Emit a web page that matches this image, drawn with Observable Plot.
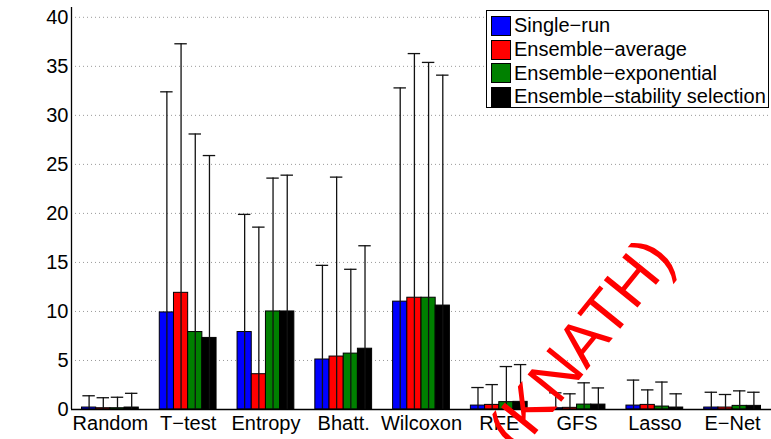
<!DOCTYPE html>
<html><head><meta charset="utf-8">
<script src="https://cdn.jsdelivr.net/npm/d3@7"></script>
<script src="https://cdn.jsdelivr.net/npm/@observablehq/plot@0.6"></script>
<style>
body{margin:0;background:#fff;}
#wrap{position:relative;width:771px;height:439px;overflow:hidden;font-family:"Liberation Sans",Arial,sans-serif;}
#legend{position:absolute;left:486px;top:10px;width:283px;height:98px;box-sizing:border-box;border:1px solid #000;background:#fff;padding:3px 0 0 4px;}
.row{display:flex;align-items:center;height:23.7px;font-size:20px;color:#000;white-space:nowrap;}
.sw{width:20px;height:20px;box-sizing:border-box;border:1px solid #000;margin-right:3px;flex:none;}
#wm{position:absolute;left:659px;top:246px;width:0;height:0;transform:rotate(-51deg);}
#wm span{position:absolute;right:0;top:-0.5em;line-height:1;font-size:63px;color:#f00;white-space:nowrap;}
</style></head>
<body><div id="wrap"></div>
<script>
const categories = ["Random","T\u2212test","Entropy","Bhatt.","Wilcoxon","RFE","GFS","Lasso","E\u2212Net"];
const series = ["Single\u2212run","Ensemble\u2212average","Ensemble\u2212exponential","Ensemble\u2212stability selection"];
const colors = ["#0000ff","#ff0000","#008000","#000000"];
const yTicks = [0,5,10,15,20,25,30,35,40];

// mean values per series (one per category)
const singleRun    = [0.2, 9.9, 7.9, 5.1, 11.0, 0.4, 0.13, 0.4, 0.2];
const ensAverage   = [0.13, 11.9, 3.6, 5.4, 11.4, 0.47, 0.17, 0.47, 0.2];
const ensExp       = [0.13, 7.9, 10.0, 5.7, 11.4, 0.75, 0.5, 0.3, 0.37];
const ensStability = [0.2, 7.3, 10.0, 6.2, 10.6, 0.78, 0.5, 0.2, 0.37];

// standard deviations (error bar half-lengths)
const singleRunErr    = [1.2, 22.5, 12.0, 9.6, 21.8, 1.84, 1.57, 2.6, 1.56];
const ensAverageErr   = [1.07, 25.4, 15.0, 18.3, 24.9, 2.07, 1.43, 1.53, 1.33];
const ensExpErr       = [1.12, 20.2, 13.6, 8.6, 24.0, 3.63, 2.22, 2.5, 1.53];
const ensStabilityErr = [1.45, 18.6, 13.9, 10.5, 23.5, 3.8, 1.7, 1.4, 1.39];

const watermark = "(KNATH)";

const means = [singleRun, ensAverage, ensExp, ensStability];
const errs = [singleRunErr, ensAverageErr, ensExpErr, ensStabilityErr];

const data = [];
categories.forEach((c, i) => series.forEach((s, k) => {
  data.push({cat: i, k, series: s, mean: means[k][i], err: errs[k][i]});
}));

const xDomain = [-0.5, categories.length - 0.5];
const groupHalf = 0.365;
const barW = 2 * groupHalf / series.length;
const capHalf = 0.08;
const left = d => d.cat - groupHalf + d.k * barW;
const center = d => left(d) + barW / 2;

const chart = Plot.plot({
  width: 771,
  height: 439,
  marginLeft: 71,
  marginRight: 0,
  marginTop: 7,
  marginBottom: 30,
  style: {fontFamily: "'Liberation Sans', Arial, sans-serif", fontSize: "20px", color: "#000", background: "#fff"},
  x: {domain: xDomain, label: null},
  y: {domain: [0, 41], label: null},
  color: {domain: series, range: colors},
  marks: [
    Plot.ruleY(yTicks.filter(t => t > 0), {stroke: "#9a9a9a", strokeDasharray: "1,3", strokeWidth: 1}),
    Plot.rectY(data, {x1: left, x2: d => left(d) + barW, y1: 0, y2: "mean", fill: "series", stroke: "#000", strokeWidth: 1}),
    Plot.ruleX(data, {x: center, y1: d => Math.max(0, d.mean - d.err), y2: d => d.mean + d.err, stroke: "#111", strokeWidth: 1.3}),
    Plot.ruleY(data, {y: d => d.mean + d.err, x1: d => center(d) - capHalf, x2: d => center(d) + capHalf, stroke: "#111", strokeWidth: 1.3}),
    Plot.ruleY([0], {stroke: "#000", strokeWidth: 1.3}),
    Plot.ruleX([xDomain[0]], {stroke: "#000", strokeWidth: 1.3}),
    Plot.axisY({ticks: yTicks, tickSize: 0, tickPadding: 3, fontSize: 20}),
    Plot.axisX({ticks: d3.range(categories.length), tickFormat: i => categories[i], tickSize: 0, tickPadding: 6, fontSize: 20})
  ]
});

const wrap = document.getElementById("wrap");
wrap.appendChild(chart);

const legend = document.createElement("div");
legend.id = "legend";
series.forEach((s, k) => {
  const row = document.createElement("div");
  row.className = "row";
  const sw = document.createElement("div");
  sw.className = "sw";
  sw.style.background = colors[k];
  const t = document.createElement("span");
  t.textContent = s;
  row.appendChild(sw); row.appendChild(t);
  legend.appendChild(row);
});
wrap.appendChild(legend);

const wm = document.createElement("div");
wm.id = "wm";
const wmt = document.createElement("span");
wmt.textContent = watermark;
wm.appendChild(wmt);
wrap.appendChild(wm);
</script>
</body></html>
